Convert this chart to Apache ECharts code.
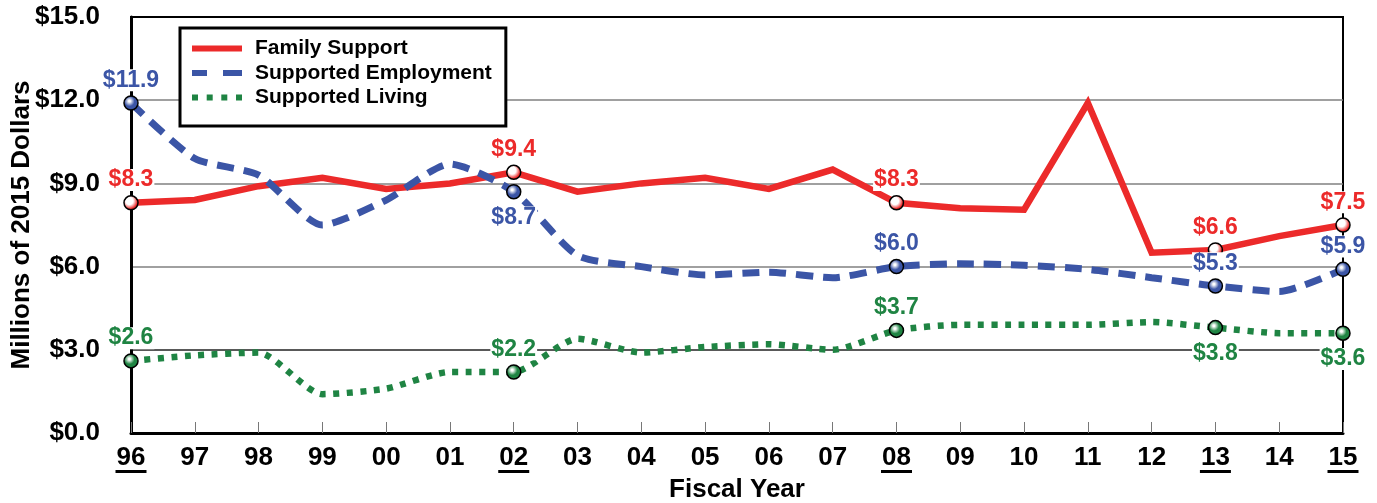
<!DOCTYPE html>
<html>
<head>
<meta charset="utf-8">
<script src="https://cdn.jsdelivr.net/npm/echarts@6/dist/echarts.min.js"></script>
<style>
html,body{margin:0;padding:0;background:#fff;}
#chart{width:1377px;height:503px;}
</style>
</head>
<body>
<div id="chart"></div>
<script>
// ---- data ----
const years = ['96','97','98','99','00','01','02','03','04','05','06','07','08','09','10','11','12','13','14','15'];
const underlinedYears = ['96','02','08','13','15'];
const keyYears = ['96','02','08','13','15'];
const familySupport = [8.3, 8.4, 8.9, 9.2, 8.8, 9.0, 9.4, 8.7, 9.0, 9.2, 8.8, 9.5, 8.3, 8.1, 8.05, 11.9, 6.5, 6.6, 7.1, 7.5];
const supportedEmployment = [11.9, 9.9, 9.3, 7.5, 8.4, 9.7, 8.7, 6.4, 6.0, 5.7, 5.8, 5.6, 6.0, 6.1, 6.05, 5.9, 5.6, 5.3, 5.1, 5.9];
const supportedLiving = [2.6, 2.8, 2.9, 1.4, 1.6, 2.2, 2.2, 3.4, 2.9, 3.1, 3.2, 3.0, 3.7, 3.9, 3.9, 3.9, 4.0, 3.8, 3.6, 3.6];
const seriesNames = ['Family Support', 'Supported Employment', 'Supported Living'];
const yTicks = [0, 3, 6, 9, 12, 15];

// ---- styles ----
const FONT = '"Liberation Sans", Arial, sans-serif';
const RED = '#ec2a2a', BLUE = '#3b55a6', GREEN = '#1f8443';
const labelPlacement = {
  family: ['top', 'top', 'top', 'top', 'top'],
  employment: ['top', 'bottom', 'top', 'top', 'top'],
  living: ['top', 'top', 'top', 'bottom', 'bottom']
};

function sphere(color, light, solid) {
  return {
    type: 'radial', x: 0.4, y: 0.38, r: 0.6,
    colorStops: [
      { offset: 0, color: '#ffffff' },
      { offset: light, color: '#ffffff' },
      { offset: solid, color: color },
      { offset: 1, color: color }
    ]
  };
}

function buildData(values, placements, color, light, solid) {
  return values.map(function (v, i) {
    const k = keyYears.indexOf(years[i]);
    if (k < 0) return { value: v, symbol: 'none' };
    return {
      value: v,
      symbol: 'circle',
      symbolSize: 14,
      itemStyle: { color: sphere(color, light, solid), borderColor: '#000', borderWidth: 1.5 },
      label: {
        show: true,
        position: placements[k],
        distance: placements[k] === 'top' ? 4 : 7,
        formatter: '$' + v.toFixed(1),
        color: color,
        fontFamily: FONT,
        fontWeight: 'bold',
        fontSize: 23,
        lineHeight: 22,
        backgroundColor: '#fff',
        padding: [0, 1]
      }
    };
  });
}

const chart = echarts.init(document.getElementById('chart'), null, { renderer: 'canvas' });

const option = {
  animation: false,
  backgroundColor: '#fff',
  grid: {
    left: 131, right: 34, top: 17, bottom: 70,
    containLabel: false,
    outerBoundsMode: 'none',
    show: true, borderColor: '#000', borderWidth: 2, backgroundColor: 'transparent'
  },
  legend: {
    orient: 'vertical',
    left: 180, top: 28,
    padding: [10, 14, 18, 12],
    itemGap: 3.5,
    itemWidth: 50,
    itemHeight: 6,
    symbolKeepAspect: false,
    backgroundColor: '#fff',
    borderColor: '#000',
    borderWidth: 3,
    borderRadius: 0,
    selectedMode: false,
    itemStyle: { borderWidth: 0 },
    textStyle: { fontFamily: FONT, fontWeight: 'bold', fontSize: 21, lineHeight: 21, color: '#000', padding: [0, 0, 0, 8] },
    data: [
      { name: seriesNames[0], icon: 'path://M0,0H50V6H0Z' },
      { name: seriesNames[1], icon: 'path://M0,0H15V6H0Z M31,0H50V6H31Z' },
      { name: seriesNames[2], icon: 'path://M0,0H6V6H0Z M14.7,0H20.7V6H14.7Z M29.3,0H35.3V6H29.3Z M44,0H50V6H44Z' }
    ]
  },
  xAxis: {
    type: 'category',
    data: years,
    boundaryGap: false,
    name: 'Fiscal Year',
    nameLocation: 'middle',
    nameGap: 44,
    nameMoveOverlap: false,
    nameTextStyle: { fontFamily: FONT, fontWeight: 'bold', fontSize: 26, color: '#000' },
    axisLine: { show: true, lineStyle: { color: '#000', width: 3 } },
    axisTick: { show: true, inside: true, length: 11, alignWithLabel: true, lineStyle: { color: '#777', width: 1 } },
    splitLine: { show: false },
    axisLabel: {
      interval: 0,
      margin: 13,
      formatter: function (v) {
        return underlinedYears.indexOf(v) >= 0 ? '{a|' + v + '}\n{u|}' : '{a|' + v + '}\n{n|}';
      },
      rich: {
        a: { fontFamily: FONT, fontWeight: 'bold', fontSize: 26, lineHeight: 24, color: '#000' },
        u: { width: 31, height: 3, lineHeight: 3, backgroundColor: '#000' },
        n: { width: 31, height: 3, lineHeight: 3 }
      }
    }
  },
  yAxis: {
    type: 'value',
    min: yTicks[0],
    max: yTicks[yTicks.length - 1],
    interval: yTicks[1] - yTicks[0],
    name: 'Millions of 2015 Dollars',
    nameLocation: 'middle',
    nameGap: 96,
    nameMoveOverlap: false,
    nameTextStyle: { fontFamily: FONT, fontWeight: 'bold', fontSize: 26, color: '#000' },
    axisLine: { show: true, lineStyle: { color: '#000', width: 3 } },
    axisTick: { show: false },
    axisLabel: {
      margin: 31,
      fontFamily: FONT, fontWeight: 'bold', fontSize: 26, color: '#000',
      formatter: function (v) { return '$' + v.toFixed(1); }
    },
    splitLine: { show: true, lineStyle: { color: ['#000', '#222', '#808080', '#808080', '#808080', '#000'], width: 1.5 } }
  },
  series: [
    {
      name: seriesNames[0], type: 'line', color: RED,
      data: buildData(familySupport, labelPlacement.family, RED, 0.4, 0.85),
      showAllSymbol: true,
      lineStyle: { color: RED, width: 6.5, cap: 'butt', join: 'miter' },
      emphasis: { disabled: true }, z: 2
    },
    {
      name: seriesNames[1], type: 'line', color: BLUE,
      data: buildData(supportedEmployment, labelPlacement.employment, BLUE, 0.1, 0.55),
      showAllSymbol: true,
      smooth: 0.22,
      lineStyle: { color: BLUE, width: 7, type: [17, 10], cap: 'butt' },
      emphasis: { disabled: true }, z: 3
    },
    {
      name: seriesNames[2], type: 'line', color: GREEN,
      data: buildData(supportedLiving, labelPlacement.living, GREEN, 0.1, 0.55),
      showAllSymbol: true,
      smooth: 0.22,
      lineStyle: { color: GREEN, width: 6.5, type: [6, 7.5], cap: 'butt' },
      emphasis: { disabled: true }, z: 4
    }
  ]
};

chart.setOption(option);
</script>
</body>
</html>
